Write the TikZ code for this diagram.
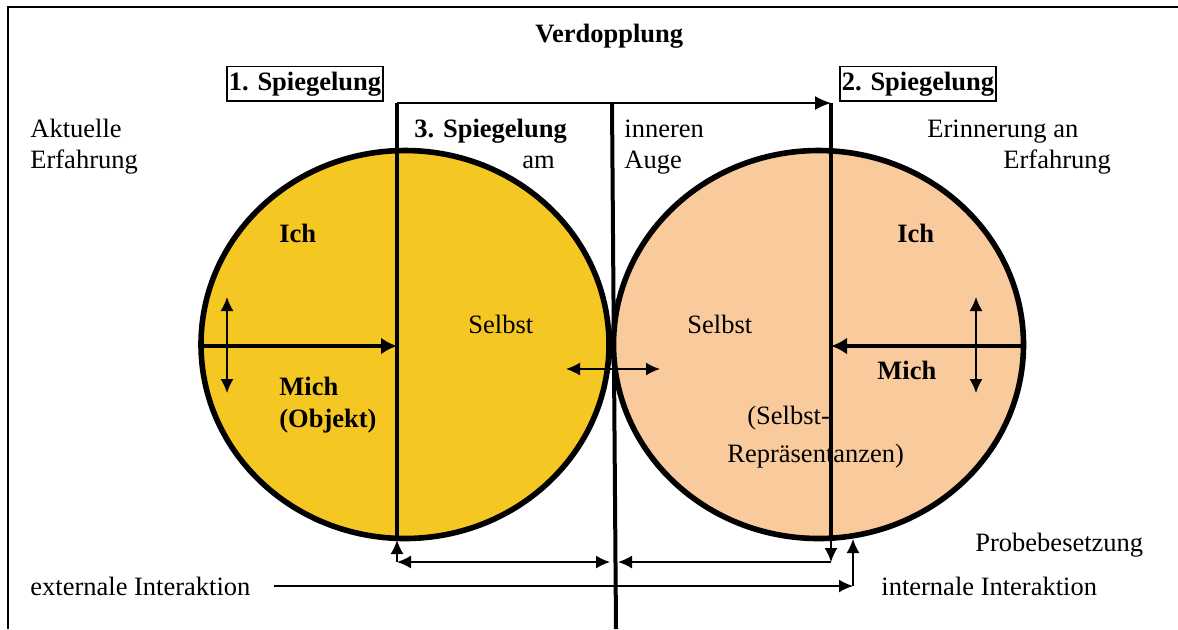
\documentclass[tikz,border=0pt]{standalone}
\usepackage{fontspec}
\setmainfont{Liberation Serif}
\usepackage{xcolor}
\usetikzlibrary{arrows.meta}
\definecolor{ichgelb}{RGB}{245,199,34}
\definecolor{pfirsich}{RGB}{249,203,156}

\tikzset{
  spiegel/.style={line width=2pt},
  rand/.style={line width=2.8pt},
  pfeil/.style={line width=0.75pt,-{Latex[length=7pt,width=6.5pt]}},
  doppelpfeil/.style={line width=0.75pt,{Latex[length=7pt,width=6.5pt]}-{Latex[length=7pt,width=6.5pt]}},
  dickpfeil/.style={line width=2.2pt,-{Latex[length=8pt,width=8.5pt]}},
  txt/.style={anchor=base west,inner sep=0pt},
  fett/.style={txt,font=\bfseries},
  kasten/.style={draw,line width=0.8pt,anchor=base west,inner xsep=1pt,inner ysep=2.5pt,font=\bfseries}
}

\begin{document}
\begin{tikzpicture}[x=0.5pt,y=-0.5pt]
  \fontsize{13.25pt}{15.5pt}\selectfont
  \useasboundingbox (0,0) rectangle (1178,629);
  \draw[line width=0.75pt] (8,629) -- (8,7) -- (1178,7);

  % Kreise
  \fill[ichgelb] (405,344.5) ellipse [x radius=204, y radius=194];
  \fill[pfirsich] (818.5,344.5) ellipse [x radius=205, y radius=194];

  \coordinate (o1) at (397,103);
  \coordinate (u1) at (397,538);
  \coordinate (o2) at (831,103);
  \coordinate (u2) at (831,538);
  \coordinate (om) at (612,103);
  \coordinate (um) at (616,629);

  % Texte
  \node[fett] (verd) at (535,42) {Verdopplung};
  \node[kasten] (sp1) at (226,90) {1. Spiegelung};
  \node[kasten] (sp2) at (839,90) {2. Spiegelung};
  \node[txt] (akt) at (30,137) {Aktuelle};
  \node[txt] (akterf) at (30,168) {Erfahrung};
  \node[fett] (sp3) at (414,137) {3. Spiegelung};
  \node[txt] (am) at (522,168) {am};
  \node[txt] (inn) at (624,137) {inneren};
  \node[txt] (auge) at (624,168) {Auge};
  \node[txt] (erin) at (927,137) {Erinnerung an};
  \node[txt] (erinerf) at (1003,168) {Erfahrung};
  \node[fett] (ich1) at (279,242) {Ich};
  \node[fett] (ich2) at (897,242) {Ich};
  \node[txt] (selbst1) at (468,333) {Selbst};
  \node[txt] (selbst2) at (687,333) {Selbst};
  \node[fett] (mich1) at (279,395) {Mich};
  \node[fett] (obj) at (279,427) {(Objekt)};
  \node[fett] (mich2) at (877,379) {Mich};
  \node[txt] (rep1) at (747,424) {(Selbst-};
  \node[txt] (rep2) at (727,462) {Repräsentanzen)};
  \node[txt] (probe) at (975,551) {Probebesetzung};
  \node[txt] (ext) at (30,595) {externale Interaktion};
  \node[txt] (int) at (881,595) {internale Interaktion};

  % Spiegelachsen
  \draw[line width=0.75pt,-{Latex[length=8pt,width=7pt]}] (o1) -- (o2);
  \draw[spiegel] (o1) -- (u1);
  \draw[spiegel] (o2) -- (u2);
  \draw[spiegel] (om) -- (um);

  \draw[rand] (405,344.5) ellipse [x radius=204, y radius=194];
  \draw[rand] (818.5,344.5) ellipse [x radius=205, y radius=194];

  % Pfeile in den Kreisen
  \draw[dickpfeil] (201,346) -- (397,346);
  \draw[dickpfeil] (1024,346) -- (831,346);
  \draw[doppelpfeil] (227,297) -- (227,393);
  \draw[doppelpfeil] (976,297) -- (976,393);
  \draw[doppelpfeil] (566,369) -- (660,369);

  % unten
  \coordinate (e1) at (397,562);
  \coordinate (e2) at (831,562);
  \coordinate (l1) at (274,586);
  \coordinate (l2) at (853,586);
  \draw[pfeil] (e1) -- (397,540);
  \draw[doppelpfeil] (e1) -- (610,562);
  \draw[pfeil] (u2) -- (e2);
  \draw[pfeil] (e2) -- (618,562);
  \draw[pfeil] (l1) -- (l2);
  \draw[pfeil] (l2) -- (853,539);
\end{tikzpicture}
\end{document}
